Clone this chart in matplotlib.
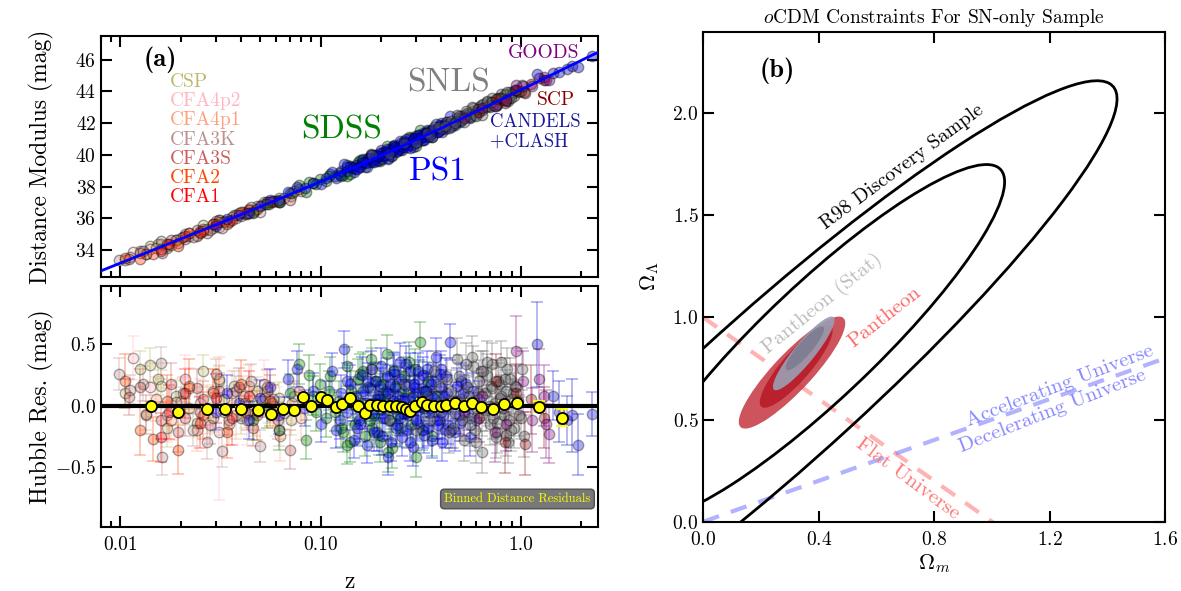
import numpy as np
import matplotlib.pyplot as plt
from matplotlib.patches import Ellipse

plt.rcParams['font.family'] = 'cmr10'
plt.rcParams['mathtext.fontset'] = 'cm'
plt.rcParams['axes.formatter.use_mathtext'] = True

# --- Hubble diagram: redshift, Hubble residual, uncertainty per survey ---
csp_z = [0.0105, 0.0125, 0.014, 0.0155, 0.017, 0.019, 0.022, 0.026, 0.029, 0.033, 0.037, 0.042, 0.048, 0.055, 0.062, 0.071,
         0.0135, 0.016, 0.024, 0.031, 0.040, 0.051]
csp_r = [0.10, 0.30, 0.33, 0.22, -0.18, 0.08, -0.02, 0.28, -0.10, 0.05, 0.16, -0.05, 0.12, -0.02, 0.06, -0.12,
         -0.08, 0.16, -0.14, 0.20, -0.10, 0.04]
csp_e = [0.12, 0.15, 0.14, 0.13, 0.16, 0.12, 0.14, 0.13, 0.12, 0.11, 0.12, 0.13, 0.11, 0.12, 0.13, 0.12,
         0.12, 0.13, 0.12, 0.12, 0.13, 0.12]

cfa4p2_z = [0.0115, 0.014, 0.017, 0.021, 0.025, 0.031, 0.036, 0.043, 0.052, 0.060]
cfa4p2_r = [0.39, 0.15, -0.08, 0.22, 0.02, -0.22, 0.10, -0.12, 0.18, -0.05]
cfa4p2_e = [0.18, 0.20, 0.22, 0.19, 0.20, 0.55, 0.18, 0.20, 0.19, 0.20]

cfa4p1_z = [0.015, 0.018, 0.022, 0.027, 0.031, 0.035, 0.041, 0.047, 0.054, 0.063, 0.072, 0.080,
            0.020, 0.024, 0.029, 0.038, 0.044, 0.058]
cfa4p1_r = [0.05, -0.12, 0.14, -0.03, 0.22, -0.15, 0.08, -0.06, 0.12, -0.25, 0.02, -0.10,
            0.04, -0.20, 0.12, -0.08, 0.16, 0.00]
cfa4p1_e = [0.18, 0.16, 0.17, 0.20, 0.18, 0.17, 0.16, 0.19, 0.18, 0.20, 0.17, 0.18,
            0.18, 0.17, 0.18, 0.19, 0.17, 0.18]

cfa3k_z = [0.0098, 0.0112, 0.013, 0.016, 0.0162, 0.019, 0.023, 0.027, 0.030, 0.032, 0.038, 0.045, 0.050, 0.058, 0.066, 0.074,
           0.0205, 0.025, 0.035, 0.042, 0.054, 0.062]
cfa3k_r = [0.26, 0.13, 0.18, 0.35, -0.42, 0.03, -0.20, -0.30, 0.26, -0.37, 0.12, 0.20, -0.33, 0.05, -0.06, 0.08,
           0.10, -0.05, -0.12, 0.02, 0.15, -0.20]
cfa3k_e = [0.13, 0.12, 0.14, 0.13, 0.15, 0.12, 0.13, 0.14, 0.12, 0.13, 0.12, 0.14, 0.13, 0.12, 0.13, 0.12,
           0.13, 0.13, 0.12, 0.13, 0.14, 0.13]

cfa3s_z = [0.011, 0.0135, 0.016, 0.018, 0.021, 0.024, 0.028, 0.033, 0.039, 0.046, 0.053, 0.061, 0.070, 0.078,
           0.0125, 0.0195, 0.026, 0.031, 0.043, 0.057]
cfa3s_r = [0.07, -0.07, -0.12, 0.18, -0.10, 0.14, -0.16, -0.05, 0.15, -0.18, 0.06, -0.12, -0.36, 0.12,
           0.15, -0.22, 0.05, 0.12, -0.06, 0.02]
cfa3s_e = [0.15, 0.16, 0.15, 0.17, 0.15, 0.16, 0.15, 0.14, 0.16, 0.15, 0.14, 0.15, 0.16, 0.15,
           0.15, 0.16, 0.15, 0.15, 0.14, 0.15]

cfa2_z = [0.0105, 0.0125, 0.0145, 0.017, 0.0195, 0.022, 0.026, 0.029, 0.034, 0.040, 0.048, 0.056]
cfa2_r = [0.20, -0.20, -0.27, 0.04, -0.36, 0.16, -0.08, 0.10, -0.22, 0.18, -0.08, 0.04]
cfa2_e = [0.22, 0.20, 0.18, 0.21, 0.20, 0.22, 0.19, 0.20, 0.21, 0.19, 0.20, 0.21]

cfa1_z = [0.016, 0.0175, 0.021, 0.025, 0.030, 0.036, 0.044]
cfa1_r = [-0.26, -0.05, 0.10, -0.14, 0.06, -0.10, 0.08]
cfa1_e = [0.20, 0.22, 0.20, 0.21, 0.20, 0.22, 0.20]

sdss_z = [0.046, 0.054, 0.062, 0.070, 0.078, 0.085, 0.092, 0.099, 0.106, 0.112,
          0.118, 0.124, 0.130, 0.136, 0.142, 0.148, 0.154, 0.160, 0.166, 0.172,
          0.178, 0.185, 0.192, 0.199, 0.206, 0.214, 0.222, 0.230, 0.239, 0.248,
          0.257, 0.267, 0.277, 0.288, 0.300, 0.313, 0.327, 0.342, 0.358, 0.375,
          0.135, 0.158, 0.181, 0.204, 0.227,
          0.110, 0.127, 0.145, 0.163, 0.176, 0.189, 0.196, 0.210, 0.218, 0.234,
          0.244, 0.262, 0.282, 0.295, 0.308, 0.320, 0.335, 0.095, 0.088, 0.140]
sdss_r = [-0.12, -0.02, -0.20, 0.10, 0.34, -0.28, 0.08, 0.18, -0.10, 0.24,
          -0.05, 0.04, -0.22, 0.32, 0.12, -0.15, 0.22, 0.02, -0.25, 0.15,
          0.38, -0.08, 0.05, -0.30, 0.18, 0.42, -0.12, 0.28, 0.02, -0.18,
          0.12, -0.06, 0.36, 0.08, -0.42, 0.52, -0.02, 0.20, -0.25, 0.08,
          -0.32, 0.26, -0.18, 0.10, -0.35,
          0.12, -0.18, 0.06, 0.28, -0.12, 0.20, -0.24, 0.08, -0.38, 0.16,
          -0.08, 0.24, -0.16, 0.30, 0.02, -0.20, 0.12, -0.05, 0.25, -0.30]
sdss_e = 0.16

ps1_z = [0.030, 0.034, 0.039, 0.044, 0.050, 0.056, 0.062, 0.069, 0.076, 0.084,
         0.092, 0.100, 0.107, 0.114, 0.120, 0.126, 0.131, 0.136, 0.141, 0.146,
         0.151, 0.156, 0.161, 0.166, 0.171, 0.176, 0.181, 0.186, 0.191, 0.196,
         0.201, 0.206, 0.211, 0.216, 0.221, 0.226, 0.232, 0.238, 0.244, 0.250,
         0.256, 0.262, 0.268, 0.274, 0.281, 0.288, 0.295, 0.302, 0.309, 0.316,
         0.323, 0.330, 0.338, 0.346, 0.354, 0.362, 0.370, 0.379, 0.388, 0.397,
         0.406, 0.415, 0.425, 0.435, 0.445, 0.456, 0.467, 0.478, 0.490, 0.502,
         0.158, 0.173, 0.188, 0.203, 0.218, 0.233, 0.248, 0.263, 0.278, 0.293,
         0.308, 0.325, 0.342, 0.360, 0.380, 0.400, 0.420, 0.515, 0.545, 0.600,
         0.145, 0.152, 0.163, 0.169, 0.179, 0.184, 0.194, 0.199, 0.209, 0.214,
         0.224, 0.229, 0.236, 0.241, 0.253, 0.259, 0.266, 0.271, 0.285, 0.291,
         0.299, 0.306, 0.319, 0.327, 0.335, 0.351, 0.366, 0.384, 0.393, 0.410,
         0.430, 0.450, 0.473, 0.495, 0.530, 0.560, 0.580, 0.620, 0.125, 0.135]
ps1_r = [-0.05, 0.10, 0.02, -0.12, 0.06, 0.15, -0.08, 0.22, 0.30, -0.02,
         0.12, -0.15, 0.05, 0.28, -0.20, 0.10, 0.46, -0.05, 0.18, -0.28,
         0.08, -0.12, 0.25, 0.02, -0.32, 0.14, -0.06, 0.20, -0.22, 0.05,
         0.32, -0.10, 0.12, -0.42, 0.18, -0.02, 0.26, -0.18, 0.08, 0.36,
         -0.26, 0.04, 0.16, -0.08, 0.28, -0.34, 0.10, -0.14, 0.22, 0.00,
         -0.20, 0.12, 0.30, -0.06, 0.18, -0.28, 0.06, 0.40, -0.12, 0.14,
         -0.30, 0.08, 0.24, -0.16, 0.52, 0.02, -0.22, 0.16, -0.08, 0.20,
         -0.15, 0.20, 0.02, -0.25, 0.10, 0.28, -0.10, 0.06, -0.30, 0.15,
         -0.04, 0.25, -0.18, 0.08, -0.12, 0.30, -0.20, 0.10, -0.05, -0.12,
         0.02, -0.18, 0.12, -0.04, 0.30, -0.22, 0.08, 0.16, -0.10, 0.24,
         -0.30, 0.04, 0.14, -0.16, 0.22, -0.06, 0.34, -0.20, 0.06, 0.18,
         -0.12, 0.28, 0.02, -0.24, 0.12, -0.02, 0.20, -0.16, 0.26, -0.08,
         0.10, -0.20, 0.04, -0.14, 0.18, -0.26, 0.12, 0.05, -0.12, 0.20]
ps1_e = 0.15

snls_z = [0.18, 0.22, 0.26, 0.30, 0.34, 0.37, 0.40, 0.43, 0.46, 0.48,
          0.50, 0.52, 0.54, 0.56, 0.58, 0.60, 0.62, 0.64, 0.66, 0.68,
          0.70, 0.72, 0.74, 0.76, 0.78, 0.80, 0.82, 0.84, 0.86, 0.88,
          0.90, 0.92, 0.95, 0.98, 1.01, 1.04, 0.51, 0.55, 0.59, 0.63,
          0.67, 0.71, 0.75, 0.79, 0.83, 0.87, 0.91, 0.44, 0.57, 0.69,
          0.45, 0.47, 0.49, 0.53, 0.56, 0.61, 0.65, 0.73, 0.77, 0.81,
          0.85, 0.89, 0.93, 0.97, 0.60, 0.64, 0.68, 0.72, 0.76, 0.80,
          0.84, 0.35, 0.39, 0.42, 1.00]
snls_r = [0.30, -0.12, 0.18, -0.20, 0.08, 0.28, -0.05, 0.22, -0.18, 0.38,
          0.05, -0.28, 0.15, -0.10, 0.32, -0.02, 0.20, -0.38, 0.10, 0.25,
          -0.15, 0.34, 0.02, -0.22, 0.18, 0.36, -0.08, 0.12, -0.30, 0.22,
          0.05, -0.18, 0.15, -0.08, 0.30, -0.25, -0.12, 0.08, -0.20, 0.28,
          -0.04, 0.16, -0.26, 0.06, 0.22, -0.12, 0.10, -0.22, 0.40, 0.00,
          0.12, -0.06, 0.24, 0.34, -0.16, 0.10, 0.28, -0.10, 0.20, -0.02,
          0.30, -0.20, 0.16, 0.04, -0.30, -0.08, 0.36, 0.14, -0.14, 0.08,
          -0.24, -0.12, 0.16, 0.02, -0.10]
snls_e = 0.17

scp_z = [0.62, 0.75, 0.83, 0.95, 1.05, 1.12, 1.30]
scp_r = [-0.10, 0.20, -0.30, 0.10, -0.31, 0.05, -0.10]
scp_e = [0.20, 0.22, 0.25, 0.24, 0.26, 0.28, 0.25]

goods_z = [0.52, 0.64, 0.74, 0.84, 0.95, 1.02, 1.14, 1.23, 1.30, 1.34, 1.39]
goods_r = [-0.05, 0.08, -0.22, -0.15, 0.45, 0.20, -0.12, 0.22, 0.08, -0.15, -0.23]
goods_e = [0.20, 0.22, 0.24, 0.22, 0.28, 0.25, 0.26, 0.24, 0.25, 0.28, 0.24]

candels_z = [1.20, 1.44, 1.55, 1.70, 1.80, 1.92, 2.26]
candels_r = [0.50, 0.08, -0.05, -0.12, -0.08, -0.32, -0.07]
candels_e = [0.35, 0.20, 0.25, 0.20, 0.30, 0.25, 0.18]

# binned residuals
bin_z = [0.0142, 0.0195, 0.0270, 0.0334, 0.0402, 0.0485, 0.0568, 0.0648, 0.0733, 0.0820,
         0.0895, 0.101, 0.108, 0.120, 0.128, 0.140, 0.153, 0.166, 0.177, 0.191,
         0.206, 0.221, 0.237, 0.255, 0.268, 0.278, 0.297, 0.320, 0.341, 0.370,
         0.398, 0.425, 0.470, 0.518, 0.573, 0.634, 0.729, 0.824, 0.957, 1.234, 1.606]
bin_r = [0.000, -0.052, -0.030, -0.030, -0.030, -0.036, -0.071, -0.030, -0.038, 0.071,
         0.000, 0.071, 0.049, -0.014, 0.011, 0.066, -0.003, -0.060, 0.008, 0.008,
         -0.003, -0.003, -0.003, -0.011, -0.025, -0.047, -0.005, 0.030, 0.008, -0.003,
         -0.003, 0.003, 0.025, -0.005, 0.022, -0.014, -0.025, 0.014, 0.025, -0.011, -0.100]
bin_e = [0.02] * 39 + [0.045, 0.07]

# --- oCDM constraints: confidence ellipses (Om, OL, semi-major, semi-minor, angle) ---
r98_om = [0.40, 0.25]
r98_ol = [0.88, 0.65]
r98_a = [1.057, 1.891]
r98_b = [0.2284, 0.3193]
r98_ang = [54.3, 52.3]

pan_om = [0.3075, 0.322]
pan_ol = [0.730, 0.760]
pan_a = [0.322, 0.232]
pan_b = [0.0746, 0.055]
pan_ang = [57.4, 59.7]

stat_om = [0.348, 0.352]
stat_ol = [0.824, 0.849]
stat_a = [0.206, 0.123]
stat_b = [0.040, 0.027]
stat_ang = [60.7, 59.7]


def dist_mod(z, om=0.3, h0=70.0):
    out = []
    for zz in np.atleast_1d(z):
        zg = np.linspace(0, zz, 400)
        dc = np.trapezoid(1 / np.sqrt(om * (1 + zg) ** 3 + 1 - om), zg)
        out.append(5 * np.log10((1 + zz) * 299792.458 / h0 * dc) + 25)
    return np.array(out)


surveys = [
    (csp_z, csp_r, csp_e, '#bdb76b'),
    (cfa4p2_z, cfa4p2_r, cfa4p2_e, '#ffb6c1'),
    (cfa4p1_z, cfa4p1_r, cfa4p1_e, '#ffa07a'),
    (cfa3k_z, cfa3k_r, cfa3k_e, '#bc8f8f'),
    (cfa3s_z, cfa3s_r, cfa3s_e, '#cd5c5c'),
    (cfa2_z, cfa2_r, cfa2_e, '#ff4500'),
    (cfa1_z, cfa1_r, cfa1_e, '#ff0000'),
    (sdss_z, sdss_r, sdss_e, 'green'),
    (ps1_z, ps1_r, ps1_e, 'blue'),
    (snls_z, snls_r, snls_e, 'dimgray'),
    (scp_z, scp_r, scp_e, 'darkred'),
    (goods_z, goods_r, goods_e, 'purple'),
    (candels_z, candels_r, candels_e, 'mediumblue'),
]

fig = plt.figure(figsize=(11.81, 5.91), dpi=100)
ax1 = fig.add_axes([0.0855, 0.5313, 0.4209, 0.4078])
ax2 = fig.add_axes([0.0855, 0.1088, 0.4209, 0.4078])
ax3 = fig.add_axes([0.5955, 0.1173, 0.3910, 0.8294])

zmin, zmax = 0.008, 2.43
zz = np.logspace(np.log10(zmin), np.log10(zmax), 300)

for z, r, e, c in surveys:
    z = np.array(z)
    r = np.array(r)
    mu = dist_mod(z) + r
    ax1.plot(z, mu, 'o', color=c, mec='k', ms=7.5, alpha=0.38, zorder=2)
    ax2.errorbar(z, r, yerr=e, fmt='o', color=c, mec='k', ms=7.5, alpha=0.33,
                 capsize=4, elinewidth=1.2, capthick=1.2, zorder=2)

ax1.plot(zz, dist_mod(zz), color='blue', lw=2, zorder=3)
ax2.axhline(0, color='k', lw=3, zorder=3)
ax2.errorbar(bin_z, bin_r, yerr=bin_e, fmt='o', color='yellow', mfc='yellow', mec='k',
             mew=1.3, ms=8, ecolor='yellow', capsize=4, elinewidth=1.5, zorder=4)

for ax in (ax1, ax2):
    ax.set_xscale('log')
    ax.set_xlim(zmin, zmax)
    ax.set_xticks([0.01, 0.1, 1.0])
    ax.tick_params(which='both', direction='in', top=True, right=True, labelsize=14, width=1.5)
    ax.tick_params(which='major', length=8)
    ax.tick_params(which='minor', length=4)
    for s in ax.spines.values():
        s.set_linewidth(1.5)

ax1.set_xticklabels([])
ax2.set_xticklabels(['0.01', '0.10', '1.0'])
ax2.tick_params(axis='x', pad=7)
ax1.set_ylim(32.3, 47.5)
ax1.set_yticks([34, 36, 38, 40, 42, 44, 46])
ax2.set_ylim(-0.99, 0.98)
ax2.set_yticks([-0.5, 0.0, 0.5])
ax1.set_ylabel('Distance Modulus (mag)', fontsize=17)
ax2.set_ylabel('Hubble Res. (mag)', fontsize=17)
ax1.yaxis.set_label_coords(-0.095, 0.5)
ax2.yaxis.set_label_coords(-0.095, 0.5)
ax2.set_xlabel('z', fontsize=17, labelpad=12)

ax1.text(0.085, 0.90, '(a)', transform=ax1.transAxes, family='cmb10', fontsize=19, va='center')
names = ['CSP', 'CFA4p2', 'CFA4p1', 'CFA3K', 'CFA3S', 'CFA2', 'CFA1']
cols = ['#bdb76b', '#ffb6c1', '#ffa07a', '#bc8f8f', '#cd5c5c', '#ff4500', '#ff0000']
for i, (n, c) in enumerate(zip(names, cols)):
    ax1.text(0.139, 0.809 - i * 0.0797, n, color=c, fontsize=14, transform=ax1.transAxes, va='center')
ax1.text(0.483, 0.61, 'SDSS', color='green', fontsize=24, transform=ax1.transAxes, ha='center', va='center')
ax1.text(0.70, 0.805, 'SNLS', color='gray', fontsize=24, transform=ax1.transAxes, ha='center', va='center')
ax1.text(0.678, 0.437, 'PS1', color='blue', fontsize=24, transform=ax1.transAxes, ha='center', va='center')
ax1.text(0.891, 0.929, 'GOODS', color='purple', fontsize=14, transform=ax1.transAxes, ha='center', va='center')
ax1.text(0.915, 0.734, 'SCP', color='darkred', fontsize=14, transform=ax1.transAxes, ha='center', va='center')
ax1.text(0.783, 0.644, 'CANDELS', color='#1a1a9a', fontsize=13.5, transform=ax1.transAxes, va='center')
ax1.text(0.783, 0.561, '+CLASH', color='#1a1a9a', fontsize=13.5, transform=ax1.transAxes, va='center')

ax2.text(0.985, 0.115, 'Binned Distance Residuals', color='yellow', fontsize=9,
         transform=ax2.transAxes, ha='right', va='center',
         bbox=dict(boxstyle='round,pad=0.3', fc='dimgray', ec='#444444', alpha=0.9))

# --- right panel ---
for om, ol, a, b, ang in zip(r98_om, r98_ol, r98_a, r98_b, r98_ang):
    ax3.add_patch(Ellipse((om, ol), 2 * a, 2 * b, angle=ang, fill=False, ec='k', lw=2, zorder=3))

pan_cols = ['#c8404a', '#b81c28']
for om, ol, a, b, ang, c in zip(pan_om, pan_ol, pan_a, pan_b, pan_ang, pan_cols):
    ax3.add_patch(Ellipse((om, ol), 2 * a, 2 * b, angle=ang, fc=c, ec='none', alpha=0.9, zorder=2))
stat_cols = ['#9a9fb4', '#7c7c90']
for om, ol, a, b, ang, c in zip(stat_om, stat_ol, stat_a, stat_b, stat_ang, stat_cols):
    ax3.add_patch(Ellipse((om, ol), 2 * a, 2 * b, angle=ang, fc=c, ec='none', alpha=0.9, zorder=2.5))

om_line = np.array([0.0, 1.6])
ax3.plot(om_line, 1 - om_line, color='#ff8080', lw=3, ls=(0, (4, 3)), alpha=0.6, zorder=1)
ax3.plot(om_line, om_line / 2, color='#8080ff', lw=3, ls=(0, (4, 3)), alpha=0.6, zorder=1)

ax3.set_xlim(0, 1.6)
ax3.set_ylim(0, 2.4)
ax3.set_xticks([0.0, 0.4, 0.8, 1.2, 1.6])
ax3.set_yticks([0.0, 0.5, 1.0, 1.5, 2.0])
ax3.tick_params(direction='in', top=True, right=True, labelsize=14, width=1.5, length=8)
ax3.tick_params(axis='x', pad=7)
for s in ax3.spines.values():
    s.set_linewidth(1.5)
ax3.set_xlabel(r'$\Omega_m$', fontsize=16, labelpad=2)
ax3.set_ylabel(r'$\Omega_\Lambda$', fontsize=16, labelpad=8)
ax3.set_title(r'$o$CDM Constraints For SN-only Sample', fontsize=14, pad=6)

ax3.text(0.258, 2.21, '(b)', family='cmb10', fontsize=19, ha='center', va='center')
ax3.text(0.689, 1.735, 'R98 Discovery Sample', fontsize=14.5, rotation=36.5, ha='center', va='center')
ax3.text(0.411, 1.066, 'Pantheon (Stat)', fontsize=15, color='#bbbbbb', rotation=39, ha='center', va='center')
ax3.text(0.629, 1.001, 'Pantheon', fontsize=15, color='#ff6666', rotation=38, ha='center', va='center')
ax3.text(0.71, 0.212, 'Flat Universe', fontsize=15, color='#ff7777', rotation=-36.5, ha='center', va='center')
ax3.text(1.234, 0.666, 'Accelerating Universe', fontsize=15, color='#8888ff', rotation=21, ha='center', va='center')
ax3.text(1.21, 0.544, 'Decelerating Universe', fontsize=15, color='#8888ff', rotation=21.5, ha='center', va='center')

fig.savefig('out.png', dpi=100)
